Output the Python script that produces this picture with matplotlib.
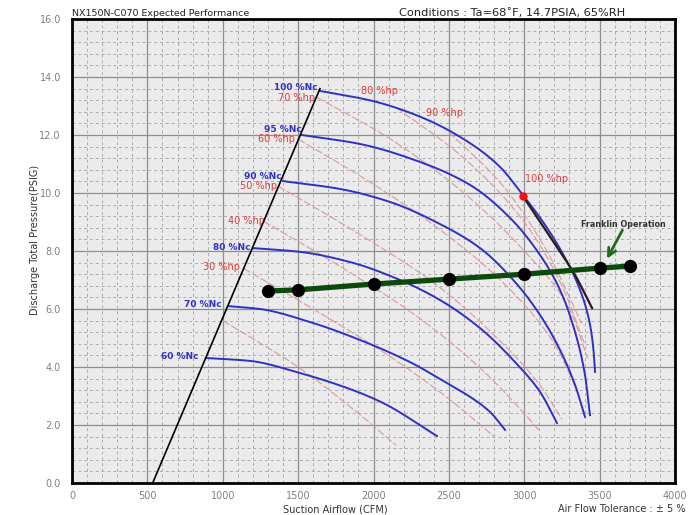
import matplotlib
matplotlib.use("Agg")
import matplotlib.pyplot as plt
from matplotlib.ticker import MultipleLocator
import numpy as np

# ---------------- data ----------------
title_left = "NX150N-C070 Expected Performance"
title_right = "Conditions : Ta=68\u02daF, 14.7PSIA, 65%RH"
x_label = "Suction Airflow (CFM)"
y_label = "Discharge Total Pressure(PSIG)"
tolerance_text = "Air Flow Tolerance : \u00b1 5 %"

x_ticks = [0, 500, 1000, 1500, 2000, 2500, 3000, 3500, 4000]
y_ticks = [0, 2, 4, 6, 8, 10, 12, 14, 16]
y_tick_labels = ["0.0", "2.0", "4.0", "6.0", "8.0", "10.0", "12.0", "14.0", "16.0"]

surge_x = [535, 1645]
surge_y = [0.0, 13.6]

nc_labels = ["100 %Nc", "95 %Nc", "90 %Nc", "80 %Nc", "70 %Nc", "60 %Nc"]
nc100_x = [1645, 1997, 2328, 2640, 2839, 2985, 3138, 3271, 3370, 3430, 3456, 3470]
nc100_y = [13.52, 13.17, 12.59, 11.72, 10.9, 9.97, 8.9, 7.76, 6.66, 5.62, 4.76, 3.83]
nc95_x = [1526, 1911, 2309, 2640, 2906, 3105, 3237, 3337, 3403, 3436]
nc95_y = [12.0, 11.69, 11.07, 10.28, 9.14, 7.86, 6.66, 5.21, 3.72, 2.34]
nc90_x = [1400, 1778, 2110, 2441, 2707, 2939, 3105, 3237, 3337, 3403]
nc90_y = [10.41, 10.14, 9.69, 8.93, 8.10, 6.93, 5.79, 4.59, 3.38, 2.28]
nc80_x = [1201, 1513, 1844, 2176, 2441, 2707, 2939, 3105, 3217]
nc80_y = [8.10, 7.97, 7.62, 7.0, 6.31, 5.34, 4.17, 3.14, 2.07]
nc70_x = [1035, 1247, 1579, 1911, 2242, 2508, 2641, 2773, 2873]
nc70_y = [6.10, 6.0, 5.55, 4.93, 4.17, 3.38, 2.97, 2.45, 1.83]
nc60_x = [889, 1181, 1513, 1844, 2063, 2421]
nc60_y = [4.31, 4.21, 3.79, 3.24, 2.76, 1.62]

hp_labels = ["30 %hp", "40 %hp", "50 %hp", "60 %hp", "70 %hp", "80 %hp", "90 %hp", "100 %hp"]
hp20_x = [1000, 1500, 1900, 2150]
hp20_y = [5.6, 4.0, 2.4, 1.3]
hp30_x = [1137, 1600, 2110, 2500, 2800]
hp30_y = [7.4, 6.0, 4.36, 2.9, 1.6]
hp40_x = [1269, 1800, 2300, 2700, 3000, 3100]
hp40_y = [9.03, 7.4, 5.7, 4.0, 2.4, 1.8]
hp50_x = [1367, 1900, 2400, 2800, 3100, 3250]
hp50_y = [10.24, 8.6, 6.9, 5.1, 3.4, 2.2]
hp60_x = [1500, 2000, 2500, 2900, 3200, 3350]
hp60_y = [11.86, 10.3, 8.5, 6.7, 4.8, 3.2]
hp70_x = [1625, 2100, 2600, 3000, 3300, 3420]
hp70_y = [13.3, 11.9, 10.0, 8.0, 6.0, 4.3]
hp80_x = [2150, 2600, 3000, 3250, 3400]
hp80_y = [12.95, 11.2, 9.0, 6.8, 4.8]
hp90_x = [2500, 2850, 3150, 3380]
hp90_y = [12.1, 10.3, 8.0, 5.5]
hp100_x = [2990, 3217, 3337, 3450]
hp100_y = [9.9, 8.14, 7.17, 6.03]

op_x = [1300, 1500, 2000, 2500, 3000, 3500, 3700]
op_y = [6.62, 6.66, 6.86, 7.03, 7.2, 7.41, 7.48]
op_label = "Franklin Operation"


def smooth(xs, ys, n=400):
    """Monotone cubic (PCHIP) curve through the points, for drawing only."""
    x = np.asarray(xs, float)
    y = np.asarray(ys, float)
    if len(x) < 3:
        return x, y
    h = np.diff(x)
    d = np.diff(y) / h
    m = np.zeros_like(x)
    for k in range(1, len(x) - 1):
        if d[k - 1] * d[k] > 0:
            w1 = 2 * h[k] + h[k - 1]
            w2 = h[k] + 2 * h[k - 1]
            m[k] = (w1 + w2) / (w1 / d[k - 1] + w2 / d[k])
    m[0] = d[0]
    m[-1] = d[-1]
    xx = np.linspace(x[0], x[-1], n)
    idx = np.clip(np.searchsorted(x, xx) - 1, 0, len(x) - 2)
    t = (xx - x[idx]) / h[idx]
    h00 = 2 * t ** 3 - 3 * t ** 2 + 1
    h10 = t ** 3 - 2 * t ** 2 + t
    h01 = -2 * t ** 3 + 3 * t ** 2
    h11 = t ** 3 - t ** 2
    yy = h00 * y[idx] + h10 * h[idx] * m[idx] + h01 * y[idx + 1] + h11 * h[idx] * m[idx + 1]
    return xx, yy


# ---------------- figure ----------------
W, H = 692, 515
fig = plt.figure(figsize=(W / 100, H / 100), dpi=100)
ax = fig.add_axes([72 / W, 32 / H, 603 / W, 464 / H])
ax.set_facecolor("#ebebeb")
ax.set_xlim(0, 4000)
ax.set_ylim(0, 16)

ax.xaxis.set_minor_locator(MultipleLocator(100))
ax.yaxis.set_minor_locator(MultipleLocator(0.4))
ax.set_xticks(x_ticks)
ax.set_xticklabels([str(v) for v in x_ticks])
ax.set_yticks(y_ticks)
ax.set_yticklabels(y_tick_labels)
ax.tick_params(which="both", length=0, labelsize=7, labelcolor="#808080")
ax.tick_params(axis="x", pad=6)
ax.tick_params(axis="y", pad=8)
ax.grid(which="major", color="#8e8e8e", lw=0.9, ls="-")
ax.grid(which="minor", color="#acacac", lw=0.7, ls=(0, (3, 3)))
ax.set_axisbelow(True)
for s in ax.spines.values():
    s.set_linewidth(2)
    s.set_color("black")

blue = "#3030c4"
red_line = "#d99a9a"
red_txt = "#e23a3a"

hp_sets = [(hp20_x, hp20_y), (hp30_x, hp30_y), (hp40_x, hp40_y), (hp50_x, hp50_y),
           (hp60_x, hp60_y), (hp70_x, hp70_y), (hp80_x, hp80_y), (hp90_x, hp90_y)]
for hx, hy in hp_sets:
    sx, sy = smooth(hx, hy)
    ax.plot(sx, sy, color=red_line, lw=0.8, ls=(0, (7, 2)), zorder=2)

nc_sets = [(nc100_x, nc100_y), (nc95_x, nc95_y), (nc90_x, nc90_y),
           (nc80_x, nc80_y), (nc70_x, nc70_y), (nc60_x, nc60_y)]
nc_offsets = [(-2, 3), (0, 5), (-1, 5), (-3, 1), (-6, 2), (-8, 2)]
for (nx_, ny_), lab, off in zip(nc_sets, nc_labels, nc_offsets):
    sx, sy = smooth(nx_, ny_)
    ax.plot(sx, sy, color=blue, lw=1.4, zorder=3)
    ax.annotate(lab, (nx_[0], ny_[0]), xytext=off, textcoords="offset pixels",
                ha="right", va="center", fontsize=6.5, fontweight="bold", color=blue)

ax.plot(surge_x, surge_y, color="black", lw=1.2, zorder=4)
sx, sy = smooth(hp100_x, hp100_y)
ax.plot(sx, sy, color="#2a1a1a", lw=1.6, zorder=4)
ax.plot([hp100_x[0]], [hp100_y[0]], "o", color="#ee1111", ms=5, zorder=6)

hp_label_pos = [(1115, 7.44), (1280, 9.04), (1360, 10.25), (1479, 11.86), (1612, 13.27)]
for lab, (lx, ly) in zip(hp_labels[:5], hp_label_pos):
    ax.text(lx, ly, lab, ha="right", va="center", fontsize=7, color=red_txt)
ax.text(2037, 13.5, hp_labels[5], ha="center", va="center", fontsize=7, color=red_txt)
ax.text(2474, 12.76, hp_labels[6], ha="center", va="center", fontsize=7, color=red_txt)
ax.text(3145, 10.48, hp_labels[7], ha="center", va="center", fontsize=7, color=red_txt)

ax.plot(op_x, op_y, color="#0b4a0b", lw=3.8, zorder=7)
ax.plot(op_x, op_y, "o", color="black", ms=8.5, zorder=8)

ax.annotate("", xy=(3540, 7.65), xytext=(3660, 8.8),
            arrowprops=dict(arrowstyle="->", color="#1f6a1f", lw=2, mutation_scale=14), zorder=9)
ax.text(3655, 8.93, op_label, ha="center", va="center", fontsize=5.8,
        color="#333333", fontweight="bold")

fig.text(72 / W, 1 - 13 / H, title_left, ha="left", va="center", fontsize=6.8, color="#222222")
fig.text(512 / W, 1 - 13 / H, title_right, ha="center", va="center", fontsize=8.2, color="#222222")
fig.text(35 / W, 1 - 240 / H, y_label, rotation=90, ha="center", va="center", fontsize=7, color="#333333")
fig.text(335 / W, 1 - 509 / H, x_label, ha="center", va="center", fontsize=7, color="#333333")
fig.text(686 / W, 1 - 509 / H, tolerance_text, ha="right", va="center", fontsize=7, color="#333333")

fig.savefig("out.png", dpi=100, facecolor="white")
